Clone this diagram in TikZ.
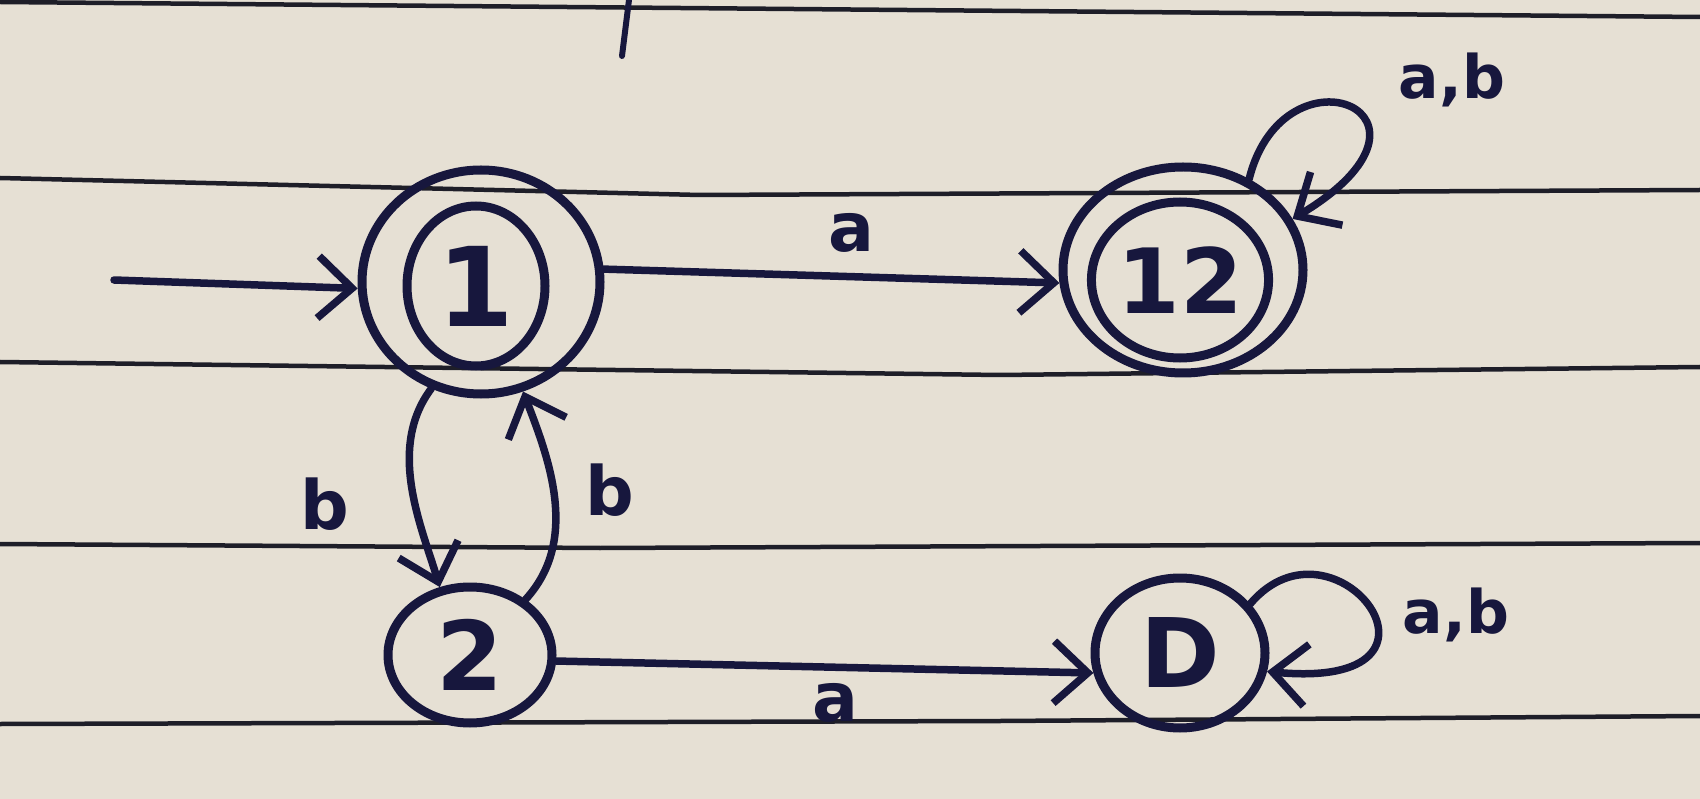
\documentclass[tikz,border=0pt]{standalone}
\usepackage{fontspec}
\setmainfont{DejaVu Sans}
\usetikzlibrary{shapes.geometric,arrows.meta}
\definecolor{ink}{HTML}{17173D}
\definecolor{paper}{HTML}{E6E0D4}
\definecolor{rulecol}{HTML}{1E1E28}
\begin{document}
\begin{tikzpicture}[x=1pt,y=-1pt,
  state/.style={ellipse,draw=ink,line width=9pt,inner sep=0pt,text=ink},
  arr/.style={draw=ink,line width=7.5pt,line cap=round,-{Straight Barb[length=34pt,width=62pt]}},
  lbl/.style={text=ink,inner sep=0pt,font=\bfseries\fontsize{68}{68}\selectfont},
  lblab/.style={text=ink,inner sep=0pt,font=\bfseries\fontsize{60}{60}\selectfont},
  big/.style={font=\bfseries\fontsize{96}{96}\selectfont},
  paperline/.style={draw=rulecol,line width=4.5pt}
]
\fill[paper] (0,0) rectangle (1700,799);
\useasboundingbox (0,0) rectangle (1700,799);
% ruled lines of the paper
\draw[paperline] (0,2) -- (1700,17);
\draw[paperline] (0,178) -- (700,195) -- (1700,190);
\draw[paperline] (0,362) -- (1000,375) -- (1700,367);
\draw[paperline] (0,544) -- (600,548) -- (1700,543);
\draw[paperline] (0,724) -- (1000,721) -- (1700,716);
\draw[draw=ink,line width=6pt,line cap=round] (629,0) -- (622,56);
% states
\node[state,minimum width=238pt,minimum height=224pt] (s1) at (481,282) {};
\node[state,big,minimum width=138pt,minimum height=160pt,font=\bfseries\fontsize{110}{110}\selectfont] (s1i) at (476,286) {1};
\node[state,minimum width=240pt,minimum height=206pt] (s12) at (1183,270) {};
\node[state,big,minimum width=166pt,minimum height=156pt,font=\bfseries\fontsize{90}{90}\selectfont] (s12i) at (1180,280) {12};
\node[state,big,minimum width=164pt,minimum height=136pt] (s2) at (470,655) {2};
\node[state,big,minimum width=170pt,minimum height=150pt] (sD) at (1180,653) {D};
% start arrow
\coordinate (start) at (114,280);
\draw[arr] (start) -- (s1.183);
% transitions
\draw[arr] (s1.6) -- (s12.186);
\draw[arr] (s2.-4) -- (sD.-167);
\draw[arr] (s1.-115) .. controls +(-45,60) and +(-18,-60) .. (s2.114);
\draw[arr] (s2.45) .. controls +(55,-60) and +(25,65) .. (s1.-69);
\draw[arr] (s12.54) .. controls +(35,-140) and +(175,-105) .. (s12.25);
\draw[arr] (sD.35) .. controls +(85,-100) and +(210,20) .. (sD.-12);
% labels
\node[lbl] (la1) at (851,233) {a};
\node[lbl] (la2) at (835,703) {a};
\node[lbl] (lb1) at (325,504) {b};
\node[lbl] (lb2) at (610,490) {b};
\node[lblab] (lab1) at (1452,80) {a,b};
\node[lblab] (lab2) at (1456,615) {a,b};
\end{tikzpicture}
\end{document}
